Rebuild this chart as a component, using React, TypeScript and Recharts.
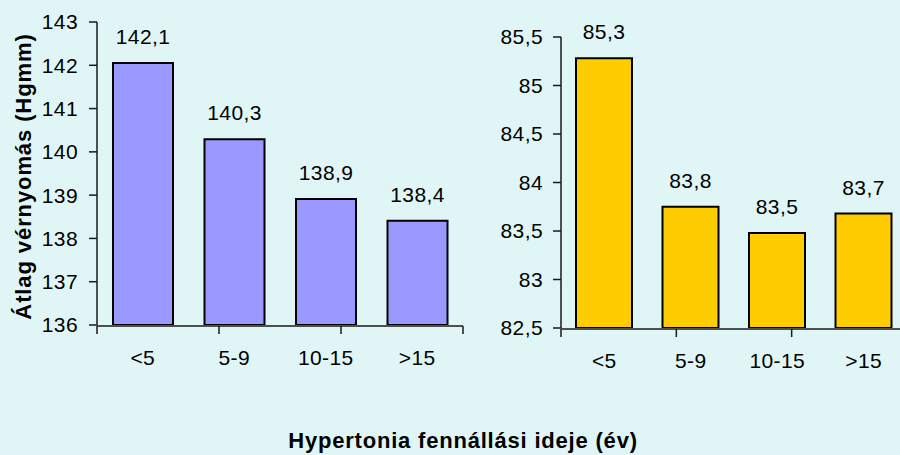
import React from 'react';
import { BarChart, Bar, XAxis, YAxis, LabelList } from 'recharts';

const categories = ['<5', '5-9', '10-15', '>15'];
// bar heights; labels show them to one decimal
const systolicValues = [142.05, 140.29, 138.91, 138.41];
const diastolicValues = [85.28, 83.75, 83.48, 83.68];
const systolicTicks = [136, 137, 138, 139, 140, 141, 142, 143];
const diastolicTicks = [82.5, 83, 83.5, 84, 84.5, 85, 85.5];
const boundaryTicks = [0, 1, 2, 3, 4];

const yTitle = 'Átlag vérnyomás (Hgmm)';
const xTitle = 'Hypertonia fennállási ideje (év)';

const FONT = '"Liberation Sans", Arial, sans-serif';
const BG = '#E0F6F6';
const AXIS = '#1a1a1a';

const comma = (v: number | string) => String(v).replace('.', ',');
const oneDecimal = (v: number | string) => Number(v).toFixed(1).replace('.', ',');

const textStyle = { fill: '#000', fontSize: 21, fontFamily: FONT, letterSpacing: 0.4 };

interface PanelProps {
  values: number[];
  left: number;
  width: number;
  yWidth: number;
  top: number;
  bottom: number;
  right: number;
  domain: [number, number];
  ticks: number[];
  fill: string;
  barSize: number;
  tickMargin: number;
}

const Panel: React.FC<PanelProps> = ({
  values,
  left,
  width,
  yWidth,
  top,
  bottom,
  right,
  domain,
  ticks,
  fill,
  barSize,
  tickMargin,
}) => {
  const data = categories.map((name, i) => ({ name, value: values[i] }));
  return (
    <div style={{ position: 'absolute', left, top: 0 }}>
      <BarChart
        width={width}
        height={400}
        data={data}
        margin={{ top, right, left: 0, bottom }}
      >
        {/* ticks between the categories, Excel style */}
        <XAxis
          xAxisId="edges"
          type="number"
          domain={[0, 4]}
          allowDataOverflow
          ticks={boundaryTicks}
          tickFormatter={() => ''}
          tickSize={8}
          height={1}
          axisLine={{ stroke: AXIS, strokeWidth: 1.5 }}
          tickLine={{ stroke: AXIS, strokeWidth: 1.5 }}
        />
        <XAxis
          xAxisId="cats"
          dataKey="name"
          height={1}
          axisLine={false}
          tickLine={false}
          tickSize={0}
          tickMargin={25}
          interval={0}
          tick={textStyle}
        />
        <YAxis
          width={yWidth}
          domain={domain}
          ticks={ticks}
          interval={0}
          allowDataOverflow
          tickFormatter={comma}
          tickSize={8}
          tickMargin={tickMargin}
          axisLine={{ stroke: AXIS, strokeWidth: 1.5 }}
          tickLine={{ stroke: AXIS, strokeWidth: 1.5 }}
          tick={textStyle}
        />
        <Bar
          xAxisId="cats"
          dataKey="value"
          fill={fill}
          stroke="#000"
          strokeWidth={2}
          barSize={barSize}
          isAnimationActive={false}
        >
          <LabelList
            dataKey="value"
            position="top"
            offset={19}
            formatter={oneDecimal}
            style={textStyle}
          />
        </Bar>
      </BarChart>
    </div>
  );
};

export default function App() {
  return (
    <div
      style={{
        position: 'absolute',
        left: 0,
        top: 0,
        width: 900,
        height: 455,
        overflow: 'hidden',
        background: BG,
        fontFamily: FONT,
      }}
    >
      <Panel
        values={systolicValues}
        left={0}
        width={470}
        yWidth={97}
        top={22}
        bottom={73}
        right={7}
        domain={[136, 143]}
        ticks={systolicTicks}
        fill="#9999FF"
        barSize={60}
        tickMargin={11}
      />
      <Panel
        values={diastolicValues}
        left={450}
        width={470}
        yWidth={111}
        top={37}
        bottom={70}
        right={13}
        domain={[82.5, 85.5]}
        ticks={diastolicTicks}
        fill="#FFCC00"
        barSize={56}
        tickMargin={10}
      />
      <svg
        width={900}
        height={455}
        style={{ position: 'absolute', left: 0, top: 0, pointerEvents: 'none' }}
      >
        <text
          transform="translate(31,176.5) rotate(-90)"
          textAnchor="middle"
          fontSize={22}
          fontWeight="bold"
          letterSpacing={0.9}
          fontFamily={FONT}
          fill="#000"
        >
          {yTitle}
        </text>
        <text
          x={463}
          y={448}
          textAnchor="middle"
          fontSize={22}
          fontWeight="bold"
          letterSpacing={0.8}
          fontFamily={FONT}
          fill="#000"
        >
          {xTitle}
        </text>
      </svg>
    </div>
  );
}
